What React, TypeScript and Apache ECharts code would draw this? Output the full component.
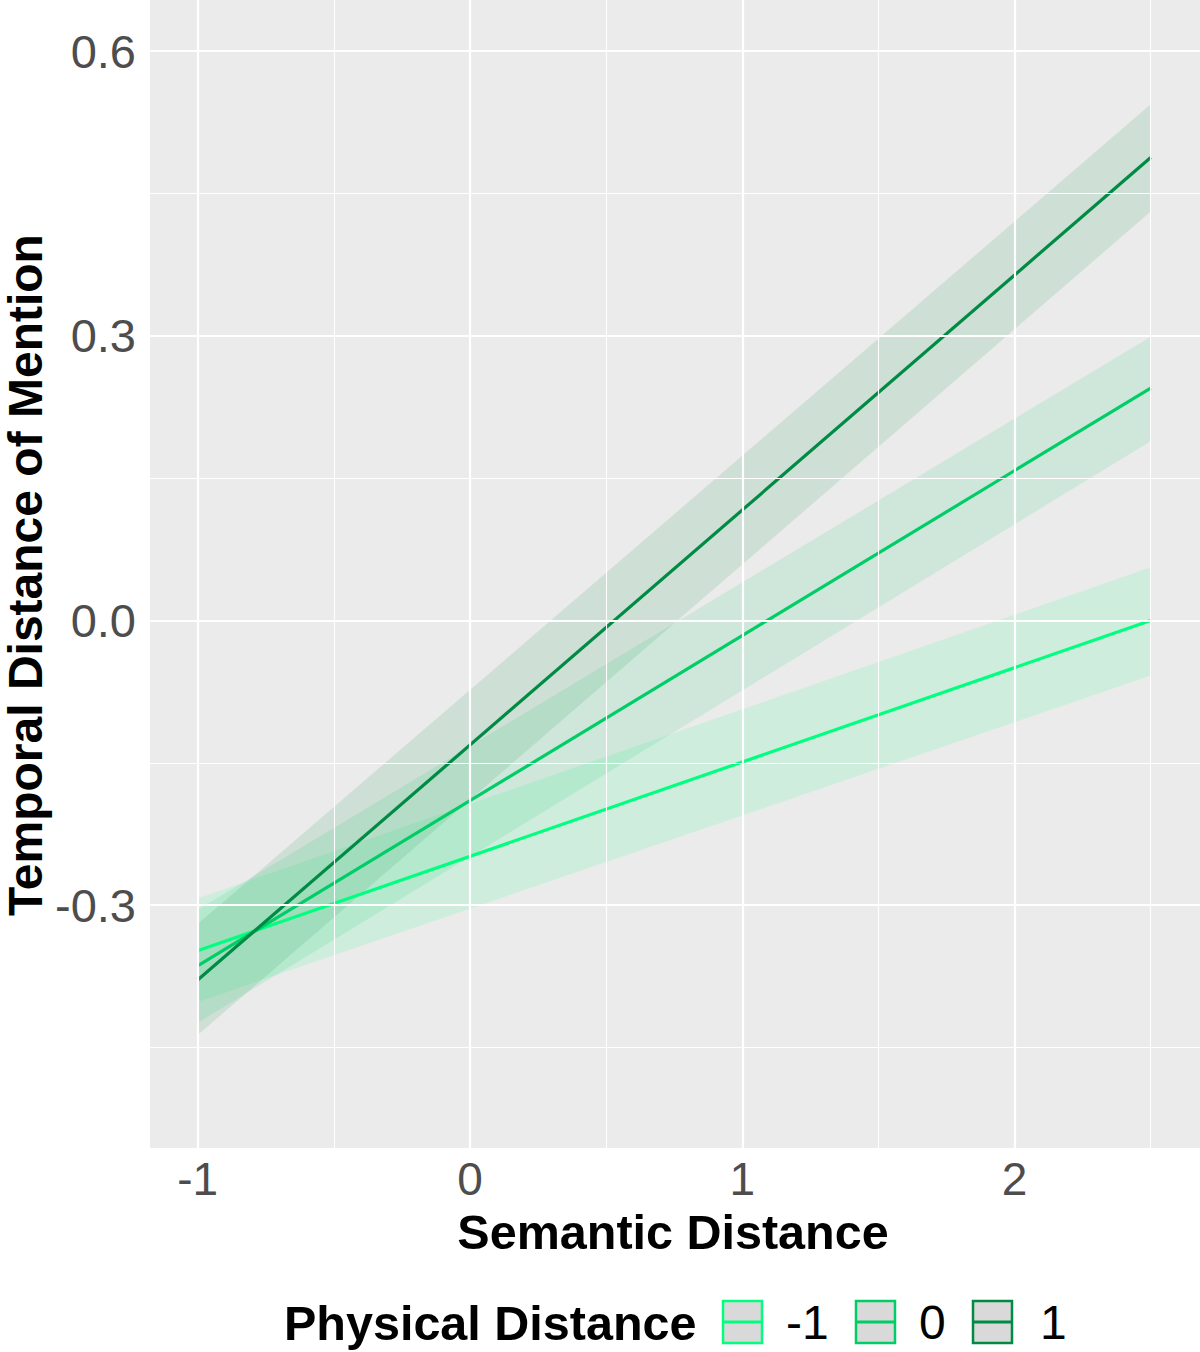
import React, { useEffect, useRef } from "react";
import * as echarts from "echarts";

// Semantic distance values at which each fitted line is evaluated
const semantic = [-1, 2.5];

// Physical distance levels
const groups = ["-1", "0", "1"];

// Fitted temporal distance and confidence band per physical distance level
const fitNeg1 = [-0.348, 0.0];
const lowerNeg1 = [-0.402, -0.058];
const upperNeg1 = [-0.293, 0.056];

const fitZero = [-0.364, 0.245];
const lowerZero = [-0.424, 0.189];
const upperZero = [-0.305, 0.299];

const fitPos1 = [-0.379, 0.488];
const lowerPos1 = [-0.437, 0.431];
const upperPos1 = [-0.32, 0.544];

const fits = [fitNeg1, fitZero, fitPos1];
const lowers = [lowerNeg1, lowerZero, lowerPos1];
const uppers = [upperNeg1, upperZero, upperPos1];

// Axis ticks
const xTicks = [-1, 0, 1, 2];
const xMinor = [-0.5, 0.5, 1.5, 2.5];
const yTicks = [-0.3, 0, 0.3, 0.6];
const yMinor = [-0.45, -0.15, 0.15, 0.45];

const colors = ["#00FF7F", "#00CD66", "#008B45"];
const bandColors = [
  "rgba(0,255,127,0.12)",
  "rgba(0,205,102,0.12)",
  "rgba(0,139,69,0.12)",
];

const FONT = "Liberation Sans, Arial, sans-serif";

export default function App() {
  const ref = useRef<HTMLDivElement>(null);

  useEffect(() => {
    document.body.style.margin = "0";
    if (!ref.current) return;
    const chart = echarts.init(ref.current, null, { renderer: "svg" });

    const gridLines = [
      ...xTicks.map((v) => ({ xAxis: v, lineStyle: { width: 2.2 } })),
      ...xMinor.map((v) => ({ xAxis: v, lineStyle: { width: 1.1 } })),
      ...yTicks.map((v) => ({ yAxis: v, lineStyle: { width: 2.2 } })),
      ...yMinor.map((v) => ({ yAxis: v, lineStyle: { width: 1.1 } })),
    ];

    const bandSeries = groups.map((g, gi) => ({
      type: "custom",
      name: "band " + g,
      z: 2,
      silent: true,
      data: semantic.map((x, i) => [x, lowers[gi][i], uppers[gi][i]]),
      encode: { x: 0, y: [1, 2] },
      renderItem: (params: any, api: any) => {
        if (params.dataIndex !== 0) return null;
        const top = semantic.map((x, i) => api.coord([x, uppers[gi][i]]));
        const bottom = semantic
          .map((x, i) => api.coord([x, lowers[gi][i]]))
          .reverse();
        return {
          type: "polygon",
          shape: { points: top.concat(bottom) },
          style: { fill: bandColors[gi], stroke: "none" },
        };
      },
    }));

    const lineSeries = groups.map((g, gi) => ({
      type: "line",
      name: g,
      z: 3,
      showSymbol: false,
      symbol: "none",
      data: semantic.map((x, i) => [x, fits[gi][i]]),
      lineStyle: { color: colors[gi], width: 3.2 },
      itemStyle: { color: colors[gi] },
    }));

    // Legend entries
    const legendX = [723, 856, 973];
    const legendLabelX = [786, 919, 1040];
    const legendGraphics: any[] = [
      {
        type: "text",
        x: 284,
        y: 1323,
        style: {
          text: "Physical Distance",
          font: "bold 48.5px " + FONT,
          fill: "#000",
          verticalAlign: "middle",
        },
      },
    ];
    groups.forEach((g, gi) => {
      legendGraphics.push({
        type: "rect",
        shape: { x: legendX[gi], y: 1301, width: 39, height: 42 },
        style: { fill: "#D9D9D9", stroke: colors[gi], lineWidth: 2.5 },
      });
      legendGraphics.push({
        type: "line",
        shape: { x1: legendX[gi] + 1, y1: 1322, x2: legendX[gi] + 38, y2: 1322 },
        style: { stroke: colors[gi], lineWidth: 3 },
      });
      legendGraphics.push({
        type: "text",
        x: legendLabelX[gi],
        y: 1322,
        style: {
          text: g,
          font: "48px " + FONT,
          fill: "#000",
          verticalAlign: "middle",
          align: "left",
        },
      });
    });

    chart.setOption({
      animation: false,
      backgroundColor: "#FFFFFF",
      grid: {
        left: 150,
        top: 0,
        width: 1050,
        height: 1148,
        show: true,
        backgroundColor: "#EBEBEB",
        borderWidth: 0,
      },
      xAxis: {
        type: "value",
        min: -1.175,
        max: 2.681,
        axisLine: { show: false },
        splitLine: { show: false },
        axisTick: {
          show: true,
          customValues: xTicks,
          length: 7,
          lineStyle: { color: "#333333", width: 2 },
        },
        axisLabel: {
          customValues: xTicks,
          margin: 8,
          fontSize: 46,
          fontFamily: FONT,
          color: "#4D4D4D",
          formatter: (v: number) => String(v),
        },
      },
      yAxis: {
        type: "value",
        min: -0.556,
        max: 0.654,
        axisLine: { show: false },
        splitLine: { show: false },
        axisTick: {
          show: true,
          customValues: yTicks,
          length: 7,
          lineStyle: { color: "#333333", width: 2 },
        },
        axisLabel: {
          customValues: yTicks,
          margin: 14,
          fontSize: 47,
          fontFamily: FONT,
          color: "#4D4D4D",
          formatter: (v: number) => v.toFixed(1),
        },
      },
      graphic: [
        {
          type: "text",
          x: 673,
          y: 1232,
          style: {
            text: "Semantic Distance",
            font: "bold 48.5px " + FONT,
            fill: "#000",
            align: "center",
            verticalAlign: "middle",
          },
        },
        {
          type: "text",
          x: 25,
          y: 575,
          rotation: Math.PI / 2,
          style: {
            text: "Temporal Distance of Mention",
            font: "bold 48px " + FONT,
            lineHeight: 40,
            fill: "#000",
            align: "center",
            verticalAlign: "middle",
          },
        },
        ...legendGraphics,
      ],
      series: [
        {
          type: "line",
          name: "grid",
          z: 1,
          silent: true,
          data: [],
          markLine: {
            silent: true,
            symbol: ["none", "none"],
            label: { show: false },
            lineStyle: { color: "#FFFFFF", type: "solid" },
            data: gridLines,
          },
        },
        ...bandSeries,
        ...lineSeries,
      ],
    });

    return () => chart.dispose();
  }, []);

  return <div ref={ref} style={{ width: 1200, height: 1352 }} />;
}
